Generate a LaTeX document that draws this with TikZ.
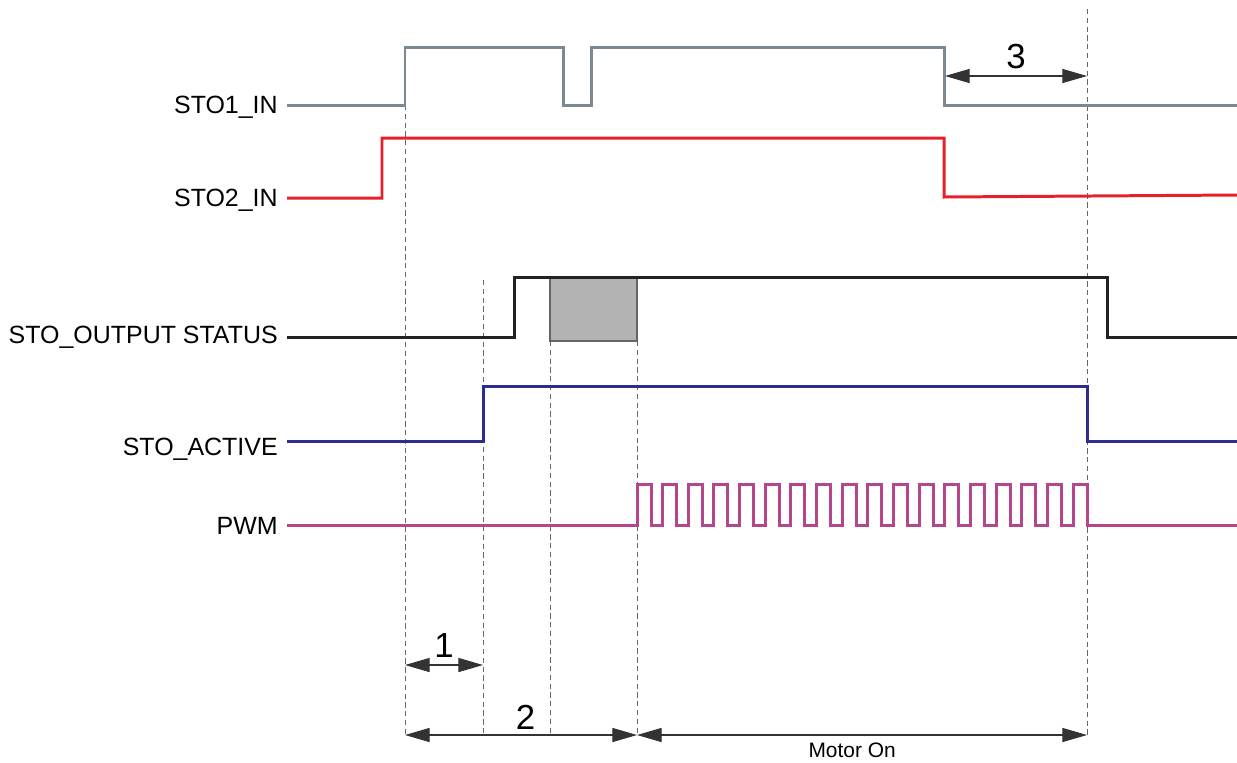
\documentclass[tikz,border=0pt]{standalone}
\usepackage{fontspec}
\setmainfont{Liberation Sans}
\usetikzlibrary{arrows.meta}
\usetikzlibrary{positioning}

\definecolor{stoone}{HTML}{7B8A91}
\definecolor{stotwo}{HTML}{E5202B}
\definecolor{stoout}{HTML}{222222}
\definecolor{stoact}{HTML}{2E2C8C}
\definecolor{pwmcol}{HTML}{B6468C}
\definecolor{dimcol}{HTML}{333333}
\definecolor{busycol}{HTML}{B3B3B3}

\begin{document}
\begin{tikzpicture}[
        x=0.02cm, y=-0.02cm,
        signal/.style={line width=1.7pt},
        siglabel/.style={anchor=base east, inner sep=0pt, font=\fontsize{14.2}{16}\selectfont},
        guide/.style={draw=gray!80!black, line width=0.5pt, dash pattern=on 3pt off 2pt},
        dimarrow/.style={{Triangle[length=14pt,width=8pt]}-{Triangle[length=14pt,width=8pt]}, draw=dimcol, fill=dimcol, line width=0.6pt},
        numlabel/.style={font=\fontsize{19.8}{22}\selectfont, inner sep=0pt, fill=none, draw=none},
        busybox/.style={fill=busycol, draw=gray!80!black, line width=0.6pt}
    ]
    \useasboundingbox (0,0) rectangle (1237,762);

    % Signal names
    \node[siglabel] (sto1) at (278,113) {STO1\_IN};
    \node[siglabel] (sto2) at (278,206) {STO2\_IN};
    \node[siglabel] (stoout) at (278,343) {STO\_OUTPUT STATUS};
    \node[siglabel] (stoact) at (278,455) {STO\_ACTIVE};
    \node[siglabel] (pwm) at (278,534) {PWM};

    % Dashed time marks
    \draw[guide] (405,105) -- (405,735);
    \draw[guide] (483,280) -- (483,735);
    \draw[guide] (550,341) -- (550,733);
    \draw[guide] (637,341) -- (637,735);
    \draw[guide] (1087,9) -- (1087,735);

    % Waiting window
    \draw[busybox] (550,277) rectangle (637,341);

    % Signals
    \draw[signal, stoone] (287,105) -- (405,105) -- (405,47) -- (563,47) -- (563,105)
        -- (591,105) -- (591,47) -- (944,47) -- (944,105) -- (1237,105);
    \draw[signal, stotwo] (287,198) -- (382,198) -- (382,138) -- (944,138) -- (944,197) -- (1237,195);
    \draw[signal, stoout] (287,337) -- (514,337) -- (514,277) -- (1107,277) -- (1107,337) -- (1237,337);
    \draw[signal, stoact] (287,441) -- (483,441) -- (483,386) -- (1087,386) -- (1087,441) -- (1237,441);
    \draw[signal, pwmcol] (287,525) -- (637,525)
        \foreach \k in {0,...,17} {
            -- ({637+\k*25.65},484) -- ({651+\k*25.65},484) -- ({651+\k*25.65},525) -- ({662.65+\k*25.65},525)
        } -- (1237,525);

    % Time spans
    \coordinate (oneA) at (405,665);
    \coordinate (oneB) at (483,665);
    \coordinate (twoA) at (405,735);
    \coordinate (twoB) at (637,735);
    \coordinate (motA) at (637,735);
    \coordinate (motB) at (1087,735);
    \coordinate (thrA) at (945,76);
    \coordinate (thrB) at (1087,76);

    \draw[dimarrow] (oneA) -- (oneB) node[numlabel, midway, above=4pt] (num1) {1};
    \draw[dimarrow] (twoA) -- (twoB) node[numlabel, pos=0.52, above=3pt] (num2) {2};
    \draw[dimarrow] (motA) -- (motB) node[numlabel, pos=0.478, below=4pt, font=\fontsize{11.9}{14}\selectfont] (motor) {Motor On};
    \draw[dimarrow] (thrA) -- (thrB) node[numlabel, midway, above=4pt] (num3) {3};

\end{tikzpicture}
\end{document}
